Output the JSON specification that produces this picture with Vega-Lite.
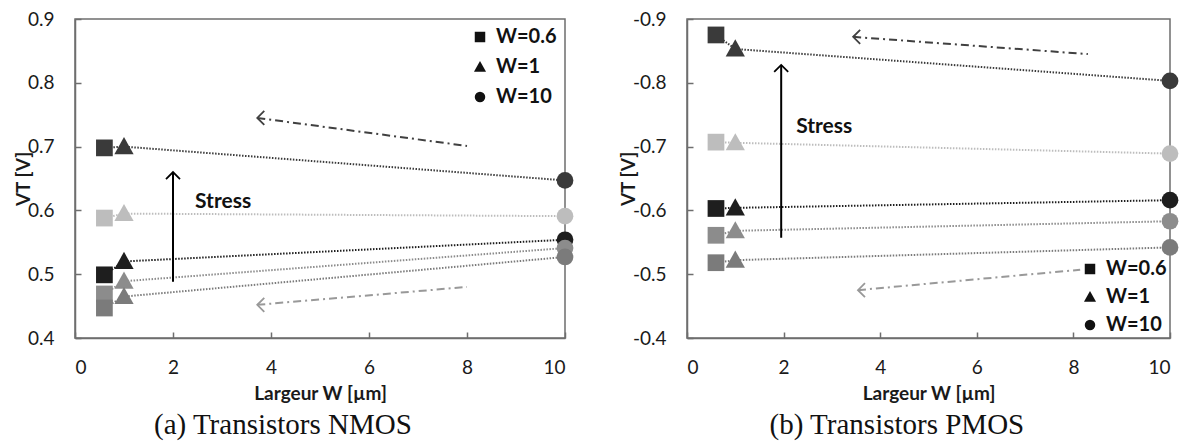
{
  "$schema": "https://vega.github.io/schema/vega-lite/v6.json",
  "autosize": {"type": "pad"},
  "padding": {"left": 13, "top": 9, "right": 0, "bottom": 0},
  "background": "white",
  "spacing": 43,
  "datasets": {
    "nmos": [
      {"s": "p1", "W": "W=0.6", "x": 0.6, "y": 0.698},
      {"s": "p1", "W": "W=1", "x": 1, "y": 0.700},
      {"s": "p1", "W": "W=10", "x": 10, "y": 0.647},
      {"s": "p2", "W": "W=0.6", "x": 0.6, "y": 0.588},
      {"s": "p2", "W": "W=1", "x": 1, "y": 0.595},
      {"s": "p2", "W": "W=10", "x": 10, "y": 0.591},
      {"s": "p3", "W": "W=0.6", "x": 0.6, "y": 0.499},
      {"s": "p3", "W": "W=1", "x": 1, "y": 0.520},
      {"s": "p3", "W": "W=10", "x": 10, "y": 0.554},
      {"s": "p4", "W": "W=0.6", "x": 0.6, "y": 0.469},
      {"s": "p4", "W": "W=1", "x": 1, "y": 0.489},
      {"s": "p4", "W": "W=10", "x": 10, "y": 0.541},
      {"s": "p5", "W": "W=0.6", "x": 0.6, "y": 0.447},
      {"s": "p5", "W": "W=1", "x": 1, "y": 0.465},
      {"s": "p5", "W": "W=10", "x": 10, "y": 0.527}
    ],
    "pmos": [
      {"s": "p1", "W": "W=0.6", "x": 0.6, "y": -0.875},
      {"s": "p1", "W": "W=1", "x": 1, "y": -0.853},
      {"s": "p1", "W": "W=10", "x": 10, "y": -0.803},
      {"s": "p2", "W": "W=0.6", "x": 0.6, "y": -0.707},
      {"s": "p2", "W": "W=1", "x": 1, "y": -0.706},
      {"s": "p2", "W": "W=10", "x": 10, "y": -0.689},
      {"s": "p3", "W": "W=0.6", "x": 0.6, "y": -0.603},
      {"s": "p3", "W": "W=1", "x": 1, "y": -0.604},
      {"s": "p3", "W": "W=10", "x": 10, "y": -0.616},
      {"s": "p4", "W": "W=0.6", "x": 0.6, "y": -0.561},
      {"s": "p4", "W": "W=1", "x": 1, "y": -0.568},
      {"s": "p4", "W": "W=10", "x": 10, "y": -0.583},
      {"s": "p5", "W": "W=0.6", "x": 0.6, "y": -0.518},
      {"s": "p5", "W": "W=1", "x": 1, "y": -0.522},
      {"s": "p5", "W": "W=10", "x": 10, "y": -0.542}
    ],
    "nmos_arrows": [
      {"s": "up", "k": 1, "x": 3.72, "y": 0.745, "head": "left"},
      {"s": "up", "k": 2, "x": 8.0, "y": 0.701, "head": "none"},
      {"s": "down", "k": 1, "x": 3.72, "y": 0.452, "head": "left"},
      {"s": "down", "k": 2, "x": 8.0, "y": 0.480, "head": "none"},
      {"s": "stress", "k": 1, "x": 2.0, "y": 0.660, "head": "up"},
      {"s": "stress", "k": 2, "x": 2.0, "y": 0.488, "head": "none"}
    ],
    "pmos_arrows": [
      {"s": "up", "k": 1, "x": 3.44, "y": -0.872, "head": "left"},
      {"s": "up", "k": 2, "x": 8.3, "y": -0.845, "head": "none"},
      {"s": "down", "k": 1, "x": 3.54, "y": -0.475, "head": "left"},
      {"s": "down", "k": 2, "x": 8.14, "y": -0.507, "head": "none"},
      {"s": "stress", "k": 1, "x": 1.95, "y": -0.828, "head": "up"},
      {"s": "stress", "k": 2, "x": 1.95, "y": -0.557, "head": "none"}
    ],
    "nmos_text": [{"x": 2.45, "y": 0.613, "label": "Stress"}],
    "pmos_text": [{"x": 2.26, "y": -0.731, "label": "Stress"}]
  },
  "hconcat": [
    {
      "width": 490,
      "height": 319,
      "title": {"text": "(a) Transistors NMOS", "orient": "bottom", "frame": "bounds", "anchor": "middle", "font": "Liberation Serif", "fontSize": 29, "fontWeight": "normal", "color": "#111111", "offset": 8, "dx": -11},
      "layer": [
        {
          "data": {"name": "nmos"},
          "mark": {"type": "line", "strokeDash": [1.5, 1.5], "strokeWidth": 2},
          "encoding": {
            "x": {"field": "x", "type": "quantitative", "scale": {"domain": [0, 10], "nice": false}, "axis": {"values": [0, 2, 4, 6, 8, 10], "format": "d", "title": "Largeur W [µm]"}},
            "y": {"field": "y", "type": "quantitative", "scale": {"domain": [0.4, 0.9], "nice": false, "zero": false}, "axis": {"values": [0.4, 0.5, 0.6, 0.7, 0.8, 0.9], "format": ".1f", "title": "VT [V]"}},
            "color": {"field": "s", "type": "nominal", "scale": {"domain": ["p1", "p2", "p3", "p4", "p5", "up", "down", "stress"], "range": ["#3a3a3a", "#bdbdbd", "#1e1e1e", "#8c8c8c", "#7b7b7b", "#404040", "#999999", "#000000"]}, "legend": null},
            "detail": {"field": "s"},
            "order": {"field": "x"}
          }
        },
        {
          "data": {"name": "nmos_arrows"},
          "mark": {"type": "line", "strokeWidth": 2},
          "encoding": {
            "x": {"field": "x", "type": "quantitative"},
            "y": {"field": "y", "type": "quantitative"},
            "color": {"field": "s", "type": "nominal", "legend": null},
            "strokeDash": {"field": "s", "type": "nominal", "scale": {"domain": ["up", "down", "stress"], "range": [[8, 4, 2, 4], [8, 4, 2, 4], [1, 0]]}, "legend": null},
            "detail": {"field": "s"},
            "order": {"field": "k"}
          }
        },
        {
          "data": {"name": "nmos_arrows"},
          "transform": [{"filter": "datum.head === 'left'"}],
          "mark": {"type": "point", "shape": "M 1 -1 L 0 0 L 1 1", "filled": false, "size": 196, "strokeWidth": 1.8, "opacity": 1},
          "encoding": {
            "x": {"field": "x", "type": "quantitative"},
            "y": {"field": "y", "type": "quantitative"},
            "color": {"field": "s", "type": "nominal", "legend": null}
          }
        },
        {
          "data": {"name": "nmos_arrows"},
          "transform": [{"filter": "datum.head === 'up'"}],
          "mark": {"type": "point", "shape": "M -1 1 L 0 0 L 1 1", "filled": false, "size": 196, "strokeWidth": 1.8, "opacity": 1},
          "encoding": {
            "x": {"field": "x", "type": "quantitative"},
            "y": {"field": "y", "type": "quantitative"},
            "color": {"field": "s", "type": "nominal", "legend": null}
          }
        },
        {
          "data": {"name": "nmos"},
          "mark": {"type": "point", "filled": true, "opacity": 1, "size": 280},
          "encoding": {
            "x": {"field": "x", "type": "quantitative"},
            "y": {"field": "y", "type": "quantitative"},
            "color": {"field": "s", "type": "nominal", "legend": null},
            "shape": {"field": "W", "type": "nominal", "scale": {"domain": ["W=0.6", "W=1", "W=10"], "range": ["square", "M 0 -1.15 L 1.15 0.9 L -1.15 0.9 Z", "circle"]}, "legend": {"title": null, "orient": "top-right", "offset": 8, "rowPadding": 10, "symbolFillColor": "#111111", "symbolStrokeColor": "#111111", "symbolOpacity": 1, "symbolSize": 110}}
          }
        },
        {
          "data": {"name": "nmos_text"},
          "mark": {"type": "text", "align": "left", "baseline": "middle", "font": "Lato", "fontSize": 21, "fontWeight": "bold", "color": "#111111"},
          "encoding": {
            "x": {"field": "x", "type": "quantitative"},
            "y": {"field": "y", "type": "quantitative"},
            "text": {"field": "label"}
          }
        }
      ]
    },
    {
      "width": 483,
      "height": 319,
      "title": {"text": "(b) Transistors PMOS", "orient": "bottom", "frame": "bounds", "anchor": "middle", "font": "Liberation Serif", "fontSize": 29, "fontWeight": "normal", "color": "#111111", "offset": 8, "dx": -2},
      "layer": [
        {
          "data": {"name": "pmos"},
          "mark": {"type": "line", "strokeDash": [1.5, 1.5], "strokeWidth": 2},
          "encoding": {
            "x": {"field": "x", "type": "quantitative", "scale": {"domain": [0, 10], "nice": false}, "axis": {"values": [0, 2, 4, 6, 8, 10], "format": "d", "title": "Largeur W [µm]"}},
            "y": {"field": "y", "type": "quantitative", "scale": {"domain": [-0.9, -0.4], "nice": false, "zero": false, "reverse": true}, "axis": {"values": [-0.9, -0.8, -0.7, -0.6, -0.5, -0.4], "format": ".1f", "labelExpr": "replace(datum.label, '−', '-')", "title": "VT [V]"}},
            "color": {"field": "s", "type": "nominal", "scale": {"domain": ["p1", "p2", "p3", "p4", "p5", "up", "down", "stress"], "range": ["#3a3a3a", "#bdbdbd", "#1e1e1e", "#8c8c8c", "#7b7b7b", "#404040", "#999999", "#000000"]}, "legend": null},
            "detail": {"field": "s"},
            "order": {"field": "x"}
          }
        },
        {
          "data": {"name": "pmos_arrows"},
          "mark": {"type": "line", "strokeWidth": 2},
          "encoding": {
            "x": {"field": "x", "type": "quantitative"},
            "y": {"field": "y", "type": "quantitative"},
            "color": {"field": "s", "type": "nominal", "legend": null},
            "strokeDash": {"field": "s", "type": "nominal", "scale": {"domain": ["up", "down", "stress"], "range": [[8, 4, 2, 4], [8, 4, 2, 4], [1, 0]]}, "legend": null},
            "detail": {"field": "s"},
            "order": {"field": "k"}
          }
        },
        {
          "data": {"name": "pmos_arrows"},
          "transform": [{"filter": "datum.head === 'left'"}],
          "mark": {"type": "point", "shape": "M 1 -1 L 0 0 L 1 1", "filled": false, "size": 196, "strokeWidth": 1.8, "opacity": 1},
          "encoding": {
            "x": {"field": "x", "type": "quantitative"},
            "y": {"field": "y", "type": "quantitative"},
            "color": {"field": "s", "type": "nominal", "legend": null}
          }
        },
        {
          "data": {"name": "pmos_arrows"},
          "transform": [{"filter": "datum.head === 'up'"}],
          "mark": {"type": "point", "shape": "M -1 1 L 0 0 L 1 1", "filled": false, "size": 196, "strokeWidth": 1.8, "opacity": 1},
          "encoding": {
            "x": {"field": "x", "type": "quantitative"},
            "y": {"field": "y", "type": "quantitative"},
            "color": {"field": "s", "type": "nominal", "legend": null}
          }
        },
        {
          "data": {"name": "pmos"},
          "mark": {"type": "point", "filled": true, "opacity": 1, "size": 280},
          "encoding": {
            "x": {"field": "x", "type": "quantitative"},
            "y": {"field": "y", "type": "quantitative"},
            "color": {"field": "s", "type": "nominal", "legend": null},
            "shape": {"field": "W", "type": "nominal", "scale": {"domain": ["W=0.6", "W=1", "W=10"], "range": ["square", "M 0 -1.15 L 1.15 0.9 L -1.15 0.9 Z", "circle"]}, "legend": {"title": null, "orient": "bottom-right", "offset": 3, "rowPadding": 8, "symbolFillColor": "#111111", "symbolStrokeColor": "#111111", "symbolOpacity": 1, "symbolSize": 110}}
          }
        },
        {
          "data": {"name": "pmos_text"},
          "mark": {"type": "text", "align": "left", "baseline": "middle", "font": "Lato", "fontSize": 21, "fontWeight": "bold", "color": "#111111"},
          "encoding": {
            "x": {"field": "x", "type": "quantitative"},
            "y": {"field": "y", "type": "quantitative"},
            "text": {"field": "label"}
          }
        }
      ]
    }
  ],
  "resolve": {
    "scale": {"x": "independent", "y": "independent", "color": "independent", "shape": "independent", "strokeDash": "independent"},
    "legend": {"shape": "independent"}
  },
  "config": {
    "view": {"stroke": "#6e6e6e", "strokeWidth": 1.5},
    "axis": {
      "grid": false,
      "labelFont": "Lato",
      "labelFontSize": 19,
      "labelColor": "#1a1a1a",
      "titleFont": "Lato",
      "titleFontSize": 19,
      "titleFontWeight": "bold",
      "titleColor": "#1a1a1a",
      "domainColor": "#6e6e6e",
      "domainWidth": 1.5,
      "tickColor": "#6e6e6e",
      "tickWidth": 1.5,
      "tickSize": -6
    },
    "axisX": {"labelPadding": 26, "titlePadding": 7},
    "axisY": {"labelPadding": 27, "titlePadding": -6},
    "legend": {
      "labelFont": "Lato",
      "labelFontSize": 20,
      "labelFontWeight": "bold",
      "labelColor": "#111111",
      "symbolSize": 110,
      "symbolStrokeWidth": 0,
      "labelOffset": 6,
      "padding": 0
    }
  }
}
